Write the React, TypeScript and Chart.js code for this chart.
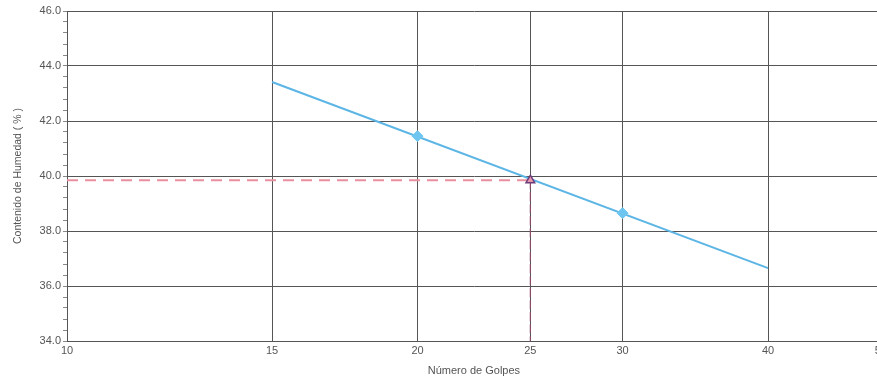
import React, { useEffect, useRef } from "react";
import { Chart, registerables } from "chart.js";

Chart.register(...registerables);

const xTicks = [10, 15, 20, 25, 30, 40, 50];
const trendX = [15, 40];
const trendY = [43.42, 36.65];
const pointX = [20, 30];
const pointY = [41.45, 38.65];
const targetX = 25;
const targetY = 39.85;
const xMin = 10;
const xMax = 50;
const yMin = 34;
const yMax = 46;

const FONT = "'Liberation Sans', Arial, sans-serif";

export default function App() {
  const ref = useRef<HTMLCanvasElement | null>(null);
  useEffect(() => {
    if (!ref.current) return;
    const chart = new Chart(ref.current, {
      type: "scatter",
      data: {
        datasets: [
          {
            label: "target",
            data: [{ x: targetX, y: targetY }],
            pointStyle: "triangle",
            pointRadius: 5,
            backgroundColor: "#E99AAE",
            borderColor: "#6A3D7A",
            borderWidth: 1.5,
            showLine: false,
          },
          {
            label: "points",
            data: pointX.map((x, i) => ({ x, y: pointY[i] })),
            pointStyle: "rectRot",
            pointRadius: 5.5,
            backgroundColor: "#6EC6F0",
            borderColor: "#6EC6F0",
            borderWidth: 1,
            showLine: false,
          },
          {
            label: "trend",
            data: trendX.map((x, i) => ({ x, y: trendY[i] })),
            showLine: true,
            borderColor: "#5BB5E5",
            borderWidth: 2,
            pointRadius: 0,
          },
          {
            label: "h",
            data: [
              { x: xMin, y: targetY },
              { x: targetX, y: targetY },
            ],
            showLine: true,
            borderColor: "#E8909F",
            borderWidth: 2,
            borderDash: [11, 7],
            pointRadius: 0,
          },
          {
            label: "v",
            data: [
              { x: targetX, y: targetY },
              { x: targetX, y: yMin },
            ],
            showLine: true,
            borderColor: "#8B4A66",
            borderWidth: 1.2,
            borderDash: [9, 3],
            pointRadius: 0,
          },
        ],
      },
      options: {
        animation: false,
        responsive: false,
        layout: { padding: { top: 11, right: 0, left: 0, bottom: 0 } },
        plugins: { legend: { display: false }, tooltip: { enabled: false } },
        scales: {
          x: {
            type: "logarithmic",
            min: xMin,
            max: xMax,
            afterBuildTicks: (scale: any) => {
              scale.ticks = xTicks.map((v) => ({ value: v }));
            },
            afterFit: (scale: any) => {
              scale.height = 42;
            },
            ticks: {
              autoSkip: false,
              maxRotation: 0,
              color: "#555",
              font: { family: FONT, size: 11 },
              padding: 3,
              callback: (v: any) => String(v),
            },
            grid: {
              color: "#555",
              lineWidth: 1,
              drawTicks: false,
            },
            border: { color: "#555", width: 1 },
            title: {
              display: true,
              text: "Número de Golpes",
              color: "#555",
              font: { family: FONT, size: 11 },
              padding: { top: 4, bottom: 5 },
            },
          },
          y: {
            min: yMin,
            max: yMax,
            afterFit: (scale: any) => {
              scale.width = 67;
            },
            ticks: {
              stepSize: 0.4,
              autoSkip: false,
              color: "#555",
              font: { family: FONT, size: 11 },
              padding: 2,
              callback: (v: any) => {
                const n = Number(v);
                return Math.abs(n / 2 - Math.round(n / 2)) < 1e-6 ? n.toFixed(1) : "";
              },
            },
            grid: {
              color: (ctx: any) => {
                const n = ctx.tick ? ctx.tick.value : 0;
                return Math.abs(n / 2 - Math.round(n / 2)) < 1e-6 ? "#555" : "rgba(0,0,0,0)";
              },
              tickColor: "#888",
              tickLength: 4,
              lineWidth: 1,
            },
            border: { color: "#555", width: 1 },
            title: {
              display: true,
              text: "Contenido de Humedad ( % )",
              color: "#555",
              font: { family: FONT, size: 10.5 },
              padding: { top: 12, bottom: 12 },
            },
          },
        },
      },
    });
    return () => chart.destroy();
  }, []);
  return (
    <div
      style={{
        position: "fixed",
        left: 0,
        top: 0,
        width: 877,
        height: 383,
        overflow: "hidden",
        background: "#fff",
      }}
    >
      <canvas ref={ref} width={890} height={383} style={{ display: "block" }} />
    </div>
  );
}
